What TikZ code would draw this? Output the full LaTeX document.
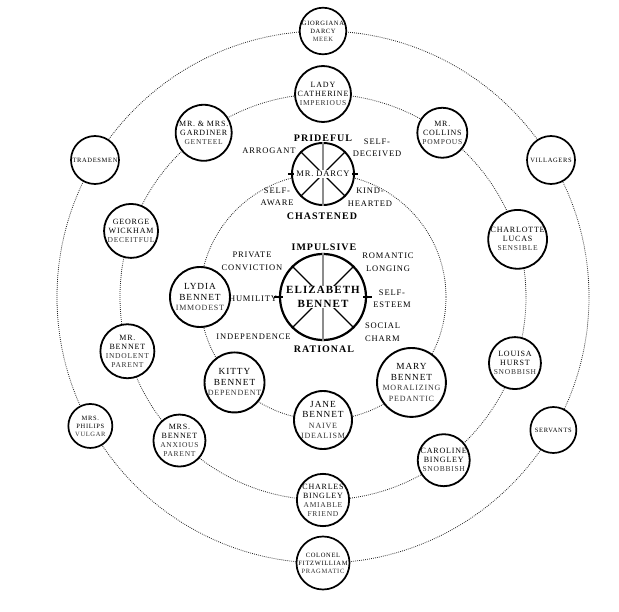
\documentclass[tikz,border=0pt]{standalone}
\usepackage{fontspec}
\setmainfont{Liberation Serif}[LetterSpace=10]
\usetikzlibrary{calc}
\newcommand{\labfont}{\fontsize{8.5}{12.5}\selectfont}
\newcommand{\biglabfont}{\bfseries\fontsize{10}{12}\selectfont}
\newcommand{\elizfont}{\bfseries\fontsize{11}{13.5}\selectfont}
\newcommand{\darcyfont}{\fontsize{8.5}{10}\selectfont}
\newcommand{\nmi}{\fontsize{9.3}{10.5}\selectfont}
\newcommand{\tri}{\fontsize{8}{10.5}\selectfont\color{black!80}}
\newcommand{\nmm}{\fontsize{8}{9}\selectfont}
\newcommand{\trm}{\fontsize{7.5}{9}\selectfont\color{black!80}}
\newcommand{\nmo}{\fontsize{6.5}{8}\selectfont}
\newcommand{\tro}{\fontsize{6.5}{8}\selectfont\color{black!80}}
\begin{document}
\begin{tikzpicture}[x=1pt,y=1pt,
  ring/.style={line width=0.8pt, black!85, dash pattern=on 0.8pt off 1.2pt},
  pers/.style={circle, draw=black, fill=white, inner sep=0pt, align=center},
  innerp/.style={pers, line width=1.9pt, font=\fontsize{8}{10.5}\selectfont},
  midp/.style={pers, line width=1.8pt, font=\fontsize{7}{9}\selectfont},
  outp/.style={pers, line width=1.7pt, font=\fontsize{6}{8}\selectfont},
  lab/.style={align=center, inner sep=0pt, font=\labfont},
  biglab/.style={align=center, inner sep=0pt, font=\biglabfont},
  spoke/.style={line width=1.3pt, black},
  vspoke/.style={line width=1.3pt, black!45},
  tickmark/.style={line width=1.3pt, black},
  ctext/.style={fill=white, inner sep=1pt, align=center}]
\useasboundingbox (-323,-314) rectangle (296,297);
\fill[white] (-323,-314) rectangle (296,297);
\coordinate (C) at (0,0);
% rings
\draw[ring] (C) circle[radius=123];
\draw[ring] (C) circle[radius=203];
\draw[ring] (C) circle[radius=266];
% outer ring
\node[outp, minimum size=46pt] (giorgiana) at (90:266) {\nmo GIORGIANA\\\nmo DARCY\\\tro MEEK};
\node[outp, minimum size=48pt] (tradesmen) at (149:266) {\nmo TRADESMEN};
\node[outp, minimum size=48pt] (villagers) at (31:266) {\nmo VILLAGERS};
\node[outp, minimum size=44pt] (philips) at (209:266) {\nmo MRS.\\\nmo PHILIPS\\\tro VULGAR};
\node[outp, minimum size=46pt] (servants) at (-30:266) {\nmo SERVANTS};
\node[outp, minimum size=46pt] (colonel) at (-90:266) {\nmo COLONEL\\\nmo FITZWILLIAM\\\tro PRAGMATIC};
% middle ring
\node[midp, minimum size=54pt] (catherine) at (90:203) {\nmm LADY\\\nmm CATHERINE\\\trm IMPERIOUS};
\node[midp, minimum size=56pt] (gardiner) at (126:203) {\nmm MR. \& MRS.\\\nmm GARDINER\\\trm GENTEEL};
\node[midp, minimum size=50pt] (collins) at (54:203) {\nmm MR.\\\nmm COLLINS\\\trm POMPOUS};
\node[midp, minimum size=54pt] (wickham) at (161:203) {\nmm GEORGE\\\nmm WICKHAM\\\trm DECEITFUL};
\node[midp, minimum size=52pt] (charlotte) at (16.5:203) {\nmm CHARLOTTE\\\nmm LUCAS\\\trm SENSIBLE};
\node[midp, minimum size=54pt] (mrbennet) at (195.5:203) {\nmm MR.\\\nmm BENNET\\\trm INDOLENT\\\trm PARENT};
\node[midp, minimum size=52pt] (louisa) at (-19:203) {\nmm LOUISA\\\nmm HURST\\\trm SNOBBISH};
\node[midp, minimum size=52pt] (mrsbennet) at (225:203) {\nmm MRS.\\\nmm BENNET\\\trm ANXIOUS\\\trm PARENT};
\node[midp, minimum size=52pt] (caroline) at (-53.5:203) {\nmm CAROLINE\\\nmm BINGLEY\\\trm SNOBBISH};
\node[midp, minimum size=52pt] (charles) at (-90:203) {\nmm CHARLES\\\nmm BINGLEY\\\trm AMIABLE\\\trm FRIEND};
% inner ring
\node[innerp, minimum size=60pt] (lydia) at (180:123) {\nmi LYDIA\\\nmi BENNET\\\tri IMMODEST};
\node[innerp, minimum size=60pt] (kitty) at (224:123) {\nmi KITTY\\\nmi BENNET\\\tri DEPENDENT};
\node[innerp, minimum size=58pt] (jane) at (270:123) {\nmi JANE\\\nmi BENNET\\\tri NAIVE\\\tri IDEALISM};
\node[innerp, minimum size=58pt] (mary) at (316:123) {\nmi MARY\\\nmi BENNET\\\tri MORALIZING\\\tri PEDANTIC};
% Mr. Darcy
\node[pers, line width=1.9pt, minimum size=62pt] (darcy) at (90:123) {};
\foreach \a in {45,135,225,315} \draw[spoke] (darcy.center) -- (darcy.\a);
\draw[vspoke] (darcy.north) -- (darcy.south);
\node[ctext, font=\darcyfont] (darcyt) at (darcy.center) {MR. DARCY};
\draw[tickmark] ([xshift=-3pt]darcy.west) -- ([xshift=3pt]darcy.west);
\draw[tickmark] ([xshift=-3pt]darcy.east) -- ([xshift=3pt]darcy.east);
\node[biglab] (lprideful) at (0,159) {PRIDEFUL};
\node[lab] (larrogant) at (-54,146) {ARROGANT};
\node[lab] (ldeceived) at (54,149) {SELF-\\DECEIVED};
\node[lab] (laware) at (-46,100) {SELF-\\AWARE};
\node[lab] (lkind) at (47,100) {KIND-\\HEARTED};
\node[biglab] (lchastened) at (-1,81) {CHASTENED};
% Elizabeth Bennet
\node[pers, line width=2.2pt, minimum size=86pt] (eliz) at (C) {};
\foreach \a in {45,135,225,315} \draw[spoke] (eliz.center) -- (eliz.\a);
\draw[vspoke] (eliz.north) -- (eliz.south);
\node[ctext, font=\elizfont] (elizt) at (eliz.center) {ELIZABETH\\BENNET};
\draw[tickmark] ([xshift=-5pt]eliz.west) -- ([xshift=4pt]eliz.west);
\draw[tickmark] ([xshift=-4pt]eliz.east) -- ([xshift=5pt]eliz.east);
\node[biglab] (limpulsive) at (1,50) {IMPULSIVE};
\node[biglab] (lrational) at (1,-52) {RATIONAL};
\node[lab] (lprivate) at (-71,35.5) {PRIVATE\\CONVICTION};
\node[lab] (lromantic) at (65,35) {ROMANTIC\\LONGING};
\node[lab] (lhumility) at (-70,-2) {HUMILITY};
\node[lab] (lesteem) at (69,-1.5) {SELF-\\ESTEEM};
\node[lab] (lindep) at (-69.5,-40) {INDEPENDENCE};
\node[lab] (lsocial) at (59.5,-35) {SOCIAL\\CHARM};
\end{tikzpicture}
\end{document}
